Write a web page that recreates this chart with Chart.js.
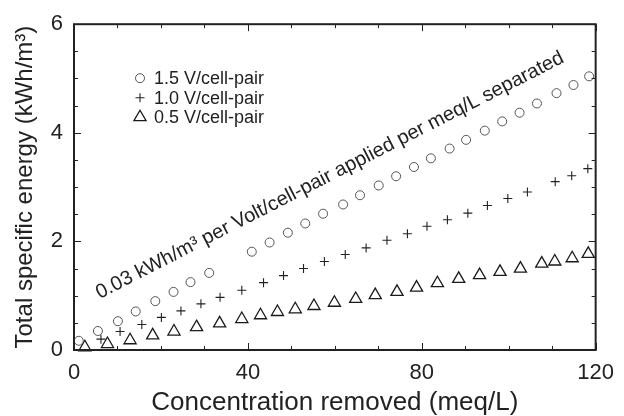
<!DOCTYPE html>
<html>
<head>
<meta charset="utf-8">
<script src="https://cdn.jsdelivr.net/npm/chart.js@4.4.0/dist/chart.umd.min.js"></script>
<style>
  html, body { margin: 0; padding: 0; background: #fff; }
  #wrap { width: 624px; height: 416px; }
</style>
</head>
<body>
<div id="wrap"><canvas id="chart" width="624" height="416"></canvas></div>
<script>
// ── Values ─────────────────────────────────────────────────────────
const x15 = [1.1, 5.5, 10.1, 14.2, 18.7, 22.9, 26.8, 31.1, 40.9, 45.0, 49.2, 53.2, 57.3, 61.9,
             65.8, 70.1, 74.1, 78.2, 82.1, 86.4, 90.2, 94.5, 98.5, 102.5, 106.5, 111.0, 114.9, 118.5];
const y15 = [0.17, 0.35, 0.53, 0.71, 0.90, 1.07, 1.25, 1.42, 1.81, 1.98, 2.16, 2.33, 2.51, 2.68,
             2.85, 3.03, 3.20, 3.37, 3.53, 3.71, 3.87, 4.04, 4.21, 4.37, 4.54, 4.73, 4.88, 5.04];

const x10 = [6.2, 10.6, 15.6, 20.1, 24.6, 29.2, 33.6, 38.6, 43.6, 48.2, 52.8, 57.6, 62.4,
             67.2, 72.0, 76.7, 81.2, 85.9, 90.6, 95.1, 99.8, 104.3, 110.7, 114.5, 118.2];
const y10 = [0.20, 0.34, 0.47, 0.60, 0.72, 0.85, 0.97, 1.10, 1.24, 1.37, 1.50, 1.63, 1.76,
             1.88, 2.02, 2.14, 2.28, 2.40, 2.52, 2.66, 2.79, 2.91, 3.10, 3.21, 3.34];

const x05 = [2.5, 7.7, 12.9, 18.1, 23.0, 28.2, 33.5, 38.6, 42.9, 46.8, 50.9, 55.2, 59.9,
             64.8, 69.3, 74.3, 78.8, 83.6, 88.5, 93.3, 98.0, 102.7, 107.6, 110.6, 114.6, 118.3];
const y05 = [0.05, 0.11, 0.18, 0.27, 0.34, 0.42, 0.49, 0.57, 0.64, 0.70, 0.75, 0.81, 0.87,
             0.94, 1.01, 1.07, 1.15, 1.23, 1.31, 1.38, 1.44, 1.50, 1.59, 1.63, 1.69, 1.77];

const seriesLabels = ['1.5 V/cell-pair', '1.0 V/cell-pair', '0.5 V/cell-pair'];
const xTicks = [0, 40, 80, 120];
const yTicks = [0, 2, 4, 6];
const xTitle = 'Concentration removed (meq/L)';
const yTitle = 'Total specific energy (kWh/m³)';
const noteText = '0.03 kWh/m³ per Volt/cell-pair applied per meq/L separated';
const noteAt = { x: 5.9, y: 0.94 };   // start of the note's baseline, data units

// ── Style ──────────────────────────────────────────────────────────
const C = {
  ink:    '#222',
  circle: '#555',
  plus:   '#222',
  tri:    '#1a1a1a',
};
const FONT = "'Liberation Sans', Arial, Helvetica, sans-serif";

const styles = [
  { pointStyle: 'circle',   radius: 4.5, color: C.circle, width: 1 },
  { pointStyle: 'cross',    radius: 4.5, color: C.plus,   width: 1.1 },
  { pointStyle: 'triangle', radius: 7,   color: C.tri,    width: 1.3 },
];

const toPts = (xs, ys) => xs.map((x, i) => ({ x, y: ys[i] }));
const seriesData = [toPts(x15, y15), toPts(x10, y10), toPts(x05, y05)];

const datasets = seriesData.map((data, i) => ({
  label: seriesLabels[i],
  data,
  showLine: false,
  pointStyle: styles[i].pointStyle,
  pointRadius: styles[i].radius,
  pointHoverRadius: styles[i].radius,
  pointBorderColor: styles[i].color,
  pointBackgroundColor: 'rgba(0,0,0,0)',
  pointBorderWidth: styles[i].width,
  clip: false,
}));

// small marker painter for the in-plot legend
function marker(ctx, style, x, y) {
  const r = style.radius;
  ctx.save();
  ctx.strokeStyle = style.color;
  ctx.lineWidth = style.width;
  ctx.beginPath();
  if (style.pointStyle === 'circle') {
    ctx.arc(x, y, r, 0, Math.PI * 2);
  } else if (style.pointStyle === 'cross') {
    ctx.moveTo(x - r, y); ctx.lineTo(x + r, y);
    ctx.moveTo(x, y - r); ctx.lineTo(x, y + r);
  } else {
    ctx.moveTo(x, y - r);
    ctx.lineTo(x + r * Math.sin(Math.PI * 2 / 3), y + r / 2);
    ctx.lineTo(x - r * Math.sin(Math.PI * 2 / 3), y + r / 2);
    ctx.closePath();
  }
  ctx.stroke();
  ctx.restore();
}

// frame, inward ticks, legend and slanted note
const decor = {
  id: 'decor',
  afterDatasetsDraw(chart) {
    const { ctx, chartArea: a, scales: { x, y } } = chart;
    ctx.save();
    ctx.strokeStyle = C.ink;
    ctx.lineWidth = 1;
    ctx.beginPath();
    for (let v = x.min; v <= x.max + 1e-6; v += 10) {
      const px = Math.round(x.getPixelForValue(v)) + 0.5;
      const len = v % 40 === 0 ? 7 : 4;
      ctx.moveTo(px, a.bottom); ctx.lineTo(px, a.bottom - len);
      ctx.moveTo(px, a.top);    ctx.lineTo(px, a.top + len);
    }
    for (let v = y.min; v <= y.max + 1e-6; v += 0.5) {
      const py = Math.round(y.getPixelForValue(v)) + 0.5;
      const len = v % 2 === 0 ? 7 : 4;
      ctx.moveTo(a.left, py);  ctx.lineTo(a.left + len, py);
      ctx.moveTo(a.right, py); ctx.lineTo(a.right - len, py);
    }
    ctx.stroke();
    ctx.lineWidth = 2;
    ctx.strokeRect(a.left, a.top, a.right - a.left, a.bottom - a.top);

    // legend
    ctx.font = `18px ${FONT}`;
    ctx.fillStyle = C.ink;
    ctx.textBaseline = 'middle';
    ctx.textAlign = 'left';
    seriesLabels.forEach((lab, i) => {
      const ly = a.top + 54 + i * 19.5;
      marker(ctx, styles[i], a.left + 66, ly);
      ctx.fillText(lab, a.left + 80, ly + 1);
    });

    // slanted note
    ctx.translate(x.getPixelForValue(noteAt.x), y.getPixelForValue(noteAt.y));
    ctx.rotate(-27 * Math.PI / 180);
    ctx.font = `20px ${FONT}`;
    ctx.textBaseline = 'alphabetic';
    ctx.fillText(noteText, 0, 0);
    ctx.restore();
  },
};

Chart.defaults.font.family = FONT;
Chart.defaults.color = C.ink;

new Chart(document.getElementById('chart'), {
  type: 'scatter',
  data: { datasets },
  options: {
    responsive: false,
    animation: false,
    layout: { padding: { top: 19, right: 19, left: 0, bottom: 0 } },
    plugins: { legend: { display: false }, tooltip: { enabled: false } },
    scales: {
      x: {
        type: 'linear',
        min: 0, max: 120,
        afterFit(s) { s.height = 66; },
        afterBuildTicks(s) { s.ticks = xTicks.map(v => ({ value: v })); },
        grid: { display: false, drawTicks: false },
        border: { display: false },
        ticks: { padding: 10, color: C.ink, font: { size: 22 }, maxRotation: 0 },
        title: {
          display: true, text: xTitle, color: C.ink,
          font: { size: 26, lineHeight: 1 }, padding: { top: 0, bottom: 0 },
        },
      },
      y: {
        type: 'linear',
        min: 0, max: 6,
        afterFit(s) { s.width = 74; },
        afterBuildTicks(s) { s.ticks = yTicks.map(v => ({ value: v })); },
        grid: { display: false, drawTicks: false },
        border: { display: false },
        ticks: { padding: 11, color: C.ink, font: { size: 22 } },
        title: {
          display: true, text: yTitle, color: C.ink,
          font: { size: 24, lineHeight: 1 }, padding: { top: 13, bottom: 0 },
        },
      },
    },
  },
  plugins: [decor],
});
</script>
</body>
</html>
